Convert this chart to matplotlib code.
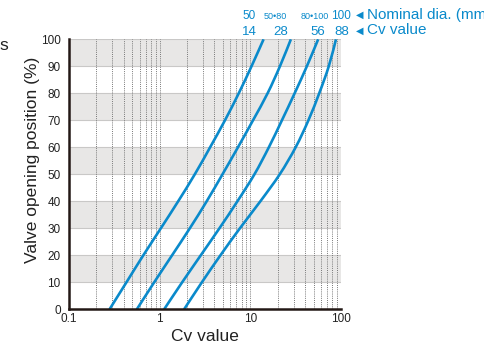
import matplotlib
matplotlib.use("Agg")
import matplotlib.pyplot as plt
from matplotlib.path import Path
from matplotlib.patches import PathPatch
import numpy as np

# ---- data ----
opening = [0, 10, 20, 30, 40, 50, 60, 70, 80, 90, 100]
cv_50 = [0.28, 0.43, 0.66, 1.03, 1.6, 2.44, 3.6, 5.25, 7.45, 10.3, 14]
cv_50_80 = [0.56, 0.87, 1.37, 2.15, 3.3, 4.93, 7.3, 10.7, 15.5, 21.2, 28]
cv_80_100 = [1.12, 1.77, 2.84, 4.56, 7.2, 11.1, 16.0, 22.3, 30.8, 42, 56]
cv_100 = [1.86, 2.92, 4.68, 7.67, 12.9, 21.1, 31.6, 43.7, 57.5, 73.3, 88]
series = [cv_50, cv_50_80, cv_80_100, cv_100]

nominal_labels = ["50", "50•80", "80•100", "100"]
cv_labels = ["14", "28", "56", "88"]
yticks = [0, 10, 20, 30, 40, 50, 60, 70, 80, 90, 100]
xticks = [0.1, 1, 10, 100]
xtick_labels = ["0.1", "1", "10", "100"]
bands = [(10, 20), (30, 40), (50, 60), (70, 80), (90, 100)]

BLUE = "#0a8acb"
DARK = "#231815"
W, H = 484, 342

plt.rcParams['font.family'] = ['Liberation Sans', 'DejaVu Sans']
fig = plt.figure(figsize=(W / 100, H / 100), dpi=100)
ax = fig.add_axes([69 / W, 1 - 309.3 / H, (341 - 69) / W, (309.3 - 39.3) / H])
ax.set_xscale('log')
ax.set_xlim(0.1, 100)
ax.set_ylim(0, 100)

for lo, hi in bands:
    ax.axhspan(lo, hi, facecolor="#e8e7e6", edgecolor="none", zorder=0)
    for yy in (lo, hi):
        ax.axhline(yy, color="#c9c8c7", lw=0.8, zorder=0.5)

grid_x = [m * 10.0 ** d for d in (-1, 0, 1) for m in range(2, 10)] + [1, 10]
for gx in grid_x:
    ax.axvline(gx, color="#777777", lw=0.7, ls=(0, (1, 1.2)), zorder=1)


def smooth_path(xs, ys):
    """Line through the data points drawn as a Catmull-Rom Bezier path
    (control points computed in log-x space, so the curve is smooth on screen)."""
    lx = np.log10(np.asarray(xs, float))
    yv = np.asarray(ys, float)
    P = np.column_stack([lx, yv])
    n = len(P)
    verts = [P[0]]
    codes = [Path.MOVETO]
    for i in range(n - 1):
        p0 = P[i - 1] if i > 0 else P[i]
        p1 = P[i]
        p2 = P[i + 1]
        p3 = P[i + 2] if i + 2 < n else P[i + 1]
        c1 = p1 + (p2 - p0) / 6.0
        c2 = p2 - (p3 - p1) / 6.0
        verts += [c1, c2, p2]
        codes += [Path.CURVE4] * 3
    verts = np.array(verts)
    verts[:, 0] = 10.0 ** verts[:, 0]
    return Path(verts, codes)


for s in series:
    patch = PathPatch(smooth_path(s, opening), facecolor='none', edgecolor=BLUE,
                      lw=1.9, zorder=3, transform=ax.transData, capstyle='butt',
                      joinstyle='round')
    ax.add_patch(patch)

for side in ("top", "right"):
    ax.spines[side].set_visible(False)
for side in ("left", "bottom"):
    ax.spines[side].set_color(DARK)
    ax.spines[side].set_linewidth(1.8)
    ax.spines[side].set_zorder(4)

ax.set_yticks(yticks)
ax.set_yticklabels([str(v) for v in yticks], fontsize=8.5, color="#222222")
ax.set_xticks(xticks)
ax.set_xticklabels(xtick_labels, fontsize=8.5, color="#222222")
ax.xaxis.set_minor_locator(matplotlib.ticker.NullLocator())
ax.tick_params(axis='both', length=0)
ax.tick_params(axis='y', pad=6)
ax.tick_params(axis='x', pad=3)


def ftext(x, y, s, **kw):
    fig.text(x / W, 1 - y / H, s, **kw)


ftext(205, 341, "Cv value", fontsize=12.5, ha='center', va='baseline', color="#222222")
ftext(33, 160, "Valve opening position (%)", fontsize=12.5, rotation=90,
      ha='center', va='center', color="#222222")
ftext(-1, 50, "s", fontsize=12.5, ha='left', va='baseline', color="#222222")

# top annotation rows
nom_x = [249, 275, 315, 341]
nom_fs = [8.5, 6.5, 6.5, 8.5]
for x, lab, fs in zip(nom_x, nominal_labels, nom_fs):
    ftext(x, 19.3, lab, fontsize=fs, ha='center', va='baseline', color=BLUE)
cv_x = [249, 281, 318, 342]
for x, lab in zip(cv_x, cv_labels):
    ftext(x, 35, lab, fontsize=9.5, ha='center', va='baseline', color=BLUE)

ftext(356, 18, "◀", fontsize=7, ha='left', va='baseline', color=BLUE,
      family=['DejaVu Sans'])
ftext(356, 34, "◀", fontsize=7, ha='left', va='baseline', color=BLUE,
      family=['DejaVu Sans'])
ftext(367, 18.5, "Nominal dia. (mm)", fontsize=11, ha='left', va='baseline', color=BLUE)
ftext(367, 34.5, "Cv value", fontsize=11, ha='left', va='baseline', color=BLUE)

fig.savefig("out.png", dpi=100)
